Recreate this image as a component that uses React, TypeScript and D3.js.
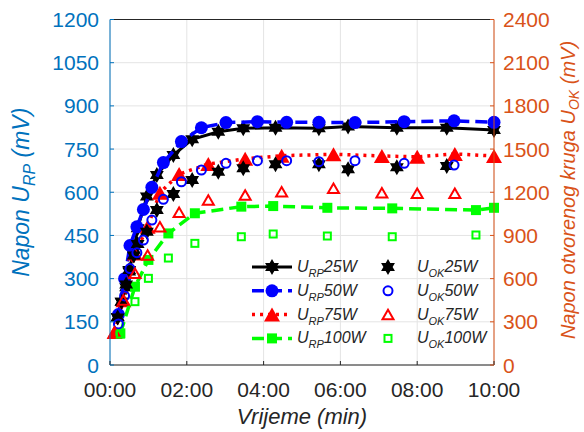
import * as d3 from "d3";

const W = 584;
const H = 432;
const MARGIN = { top: 19.5, right: 90, bottom: 67, left: 110 };

// time in minutes, URP on the left axis, UOK on the right axis (mV)
const t25 = [0.2, 0.3, 0.42, 0.5, 0.62, 0.72, 0.96, 1.22, 1.65, 2.14, 2.82, 3.47, 4.31, 5.44, 6.2, 7.47, 8.77, 10];
const urp25 = [167, 220, 270, 325, 400, 475, 585, 660, 729, 784, 810, 822, 824, 822, 828, 824, 824, 816];
const uok25 = [330, 440, 560, 660, 760, 840, 926, 1077, 1188, 1285, 1343, 1366, 1394, 1394, 1359, 1373, 1382, null];

const t50 = [0.22, 0.38, 0.52, 0.7, 0.87, 1.09, 1.39, 1.86, 2.38, 3.02, 3.84, 4.6, 5.44, 6.38, 7.66, 8.96, 10];
const urp50 = [175, 300, 415, 480, 540, 617, 703, 776, 824, 842, 845, 843, 843, 842, 845, 848, 843];
const uok50 = [285, 480, 670, 780, 868, 1007, 1151, 1273, 1354, 1401, 1419, 1419, 1412, 1419, 1401, 1389, null];

const t75 = [0.12, 0.35, 0.65, 0.98, 1.3, 1.8, 2.56, 3.52, 4.47, 5.82, 7.08, 8.0, 8.98, 10];
const urp75 = [115, 225, 387, 480, 598, 663, 698, 716, 727, 732, 726, 723, 733, 726];
const uok75 = [230, 451, 637, 764, 961, 1061, 1146, 1181, 1204, 1227, 1197, 1193, 1193, null];

const t100 = [0.27, 0.65, 1.0, 1.52, 2.21, 3.42, 4.25, 5.66, 7.35, 9.53, 10];
const urp100 = [110, 272, 365, 457, 527, 550, 552, 546, 544, 538, 546];
const uok100 = [215, 440, 602, 743, 845, 891, 910, 896, 891, 903, null];

const xTicks = [0, 2, 4, 6, 8, 10];
const leftTicks = [0, 150, 300, 450, 600, 750, 900, 1050, 1200];
const rightTicks = [0, 300, 600, 900, 1200, 1500, 1800, 2100, 2400];

const powers = ["25W", "50W", "75W", "100W"];

const LEFT_C = "#0072BD";
const RIGHT_C = "#D95319";
const AX_C = "#262626";
const FONT = "'Liberation Sans', Arial, Helvetica, sans-serif";

type Shape = "star" | "circle" | "tri" | "square";

const starPath = (R: number) => {
  const r = R / Math.sqrt(3);
  const pts: string[] = [];
  for (let i = 0; i < 12; i++) {
    const a = -Math.PI / 2 + (i * Math.PI) / 6;
    const rad = i % 2 === 0 ? R : r;
    pts.push(`${(rad * Math.cos(a)).toFixed(2)},${(rad * Math.sin(a)).toFixed(2)}`);
  }
  return "M" + pts.join("L") + "Z";
};

const Marker = ({ x, y, shape, color, filled }: { x: number; y: number; shape: Shape; color: string; filled: boolean }) => {
  const fill = filled ? color : "none";
  const sw = filled ? 0 : 2;
  if (shape === "star") {
    return <path d={starPath(filled ? 8 : 6.5)} transform={`translate(${x},${y})`} fill={color} />;
  }
  if (shape === "circle") {
    return <circle cx={x} cy={y} r={filled ? 6.5 : 4.5} fill={fill} stroke={color} strokeWidth={sw} />;
  }
  if (shape === "tri") {
    const w = filled ? 16 : 11;
    const h = filled ? 14 : 9.5;
    return (
      <path
        d={`M0,${-h / 2}L${w / 2},${h / 2}L${-w / 2},${h / 2}Z`}
        transform={`translate(${x},${y})`}
        fill={fill}
        stroke={color}
        strokeWidth={sw}
      />
    );
  }
  const s = filled ? 10 : 7;
  return <rect x={x - s / 2} y={y - s / 2} width={s} height={s} fill={fill} stroke={color} strokeWidth={sw} />;
};

const seriesDefs = [
  { t: t25, urp: urp25, uok: uok25, color: "#000000", shape: "star" as Shape, dash: "none" },
  { t: t50, urp: urp50, uok: uok50, color: "#0000FF", shape: "circle" as Shape, dash: "12,6" },
  { t: t75, urp: urp75, uok: uok75, color: "#FF0000", shape: "tri" as Shape, dash: "3,5" },
  { t: t100, urp: urp100, uok: uok100, color: "#00FF00", shape: "square" as Shape, dash: "12,6" },
];

const fmtTime = (m: number) => `${String(m).padStart(2, "0")}:00`;

export default function App() {
  const boundsW = W - MARGIN.left - MARGIN.right;
  const boundsH = H - MARGIN.top - MARGIN.bottom;
  const x0 = MARGIN.left;
  const y0 = MARGIN.top;

  const xScale = d3.scaleLinear().domain([0, 10]).range([x0, x0 + boundsW]);
  const yLeft = d3.scaleLinear().domain([0, 1200]).range([y0 + boundsH, y0]);
  const yRight = d3.scaleLinear().domain([0, 2400]).range([y0 + boundsH, y0]);

  const lineBuilder = d3
    .line<[number, number]>()
    .x((d) => xScale(d[0]))
    .y((d) => yLeft(d[1]));

  const bottom = y0 + boundsH;
  const right = x0 + boundsW;

  return (
    <svg width={W} height={H} style={{ position: "absolute", left: 0, top: 0, fontFamily: FONT }}>
      <rect x={0} y={0} width={W} height={H} fill="white" />

      {/* grid */}
      {xTicks.map((v) => (
        <line key={"gx" + v} x1={xScale(v)} x2={xScale(v)} y1={y0} y2={bottom} stroke="#e4e4e4" strokeWidth={1} />
      ))}
      {leftTicks.map((v) => (
        <line key={"gy" + v} x1={x0} x2={right} y1={yLeft(v)} y2={yLeft(v)} stroke="#e4e4e4" strokeWidth={1} />
      ))}

      {/* URP lines + markers */}
      {seriesDefs.map((s, i) => {
        const pts = s.t.map((t, j) => [t, s.urp[j]] as [number, number]);
        return (
          <g key={"urp" + i}>
            <path
              d={lineBuilder(pts)!}
              fill="none"
              stroke={s.color}
              strokeWidth={i === 0 ? 3 : 3.5}
              strokeDasharray={s.dash}
            />
            {pts.map((p, j) => (
              <Marker key={j} x={xScale(p[0])} y={yLeft(p[1])} shape={s.shape} color={s.color} filled />
            ))}
          </g>
        );
      })}

      {/* UOK markers */}
      {seriesDefs.map((s, i) => (
        <g key={"uok" + i}>
          {s.t.map((t, j) =>
            s.uok[j] == null ? null : (
              <Marker key={j} x={xScale(t)} y={yRight(s.uok[j] as number)} shape={s.shape} color={s.color} filled={s.shape === "star"} />
            )
          )}
        </g>
      ))}

      {/* axes */}
      <line x1={x0} x2={right} y1={y0} y2={y0} stroke={AX_C} strokeWidth={1} />
      <line x1={x0} x2={right} y1={bottom} y2={bottom} stroke={AX_C} strokeWidth={1} />
      <line x1={x0} x2={x0} y1={y0} y2={bottom} stroke={LEFT_C} strokeWidth={1} />
      <line x1={right} x2={right} y1={y0} y2={bottom} stroke={RIGHT_C} strokeWidth={1} />

      {xTicks.map((v) => (
        <g key={"xt" + v}>
          <line x1={xScale(v)} x2={xScale(v)} y1={bottom} y2={bottom - 4} stroke={AX_C} />
          <text x={xScale(v)} y={397} textAnchor="middle" fontSize={21} fill={AX_C}>
            {fmtTime(v)}
          </text>
        </g>
      ))}
      {leftTicks.map((v) => (
        <g key={"lt" + v}>
          <line x1={x0} x2={x0 + 4} y1={yLeft(v)} y2={yLeft(v)} stroke={LEFT_C} />
          <text x={99} y={yLeft(v) + 7.5} textAnchor="end" fontSize={21} fill={LEFT_C}>
            {v}
          </text>
        </g>
      ))}
      {rightTicks.map((v) => (
        <g key={"rt" + v}>
          <line x1={right} x2={right - 4} y1={yRight(v)} y2={yRight(v)} stroke={RIGHT_C} />
          <text x={503} y={yRight(v) + 7.5} textAnchor="start" fontSize={21} fill={RIGHT_C}>
            {v}
          </text>
        </g>
      ))}

      {/* axis titles */}
      <text x={(x0 + right) / 2} y={424} textAnchor="middle" fontSize={22} fontStyle="italic" fill={AX_C}>
        Vrijeme (min)
      </text>
      <text transform={`translate(29,${(y0 + bottom) / 2}) rotate(-90)`} textAnchor="middle" fontSize={23} fontStyle="italic" fill={LEFT_C}>
        Napon U
        <tspan fontSize={16} dy={6}>RP</tspan>
        <tspan dy={-6}> (mV)</tspan>
      </text>
      <text transform={`translate(575,190) rotate(-90)`} textAnchor="middle" fontSize={20} fontStyle="italic" fill={RIGHT_C}>
        Napon otvorenog kruga U
        <tspan fontSize={14} dy={4}>OK</tspan>
        <tspan dy={-4}> (mV)</tspan>
      </text>

      {/* legend */}
      {seriesDefs.map((s, i) => {
        const cy = 267 + i * 23.8;
        return (
          <g key={"lg" + i}>
            <line x1={252} x2={292} y1={cy} y2={cy} stroke={s.color} strokeWidth={i === 0 ? 3 : 3.5} strokeDasharray={s.dash} />
            <Marker x={272} y={cy} shape={s.shape} color={s.color} filled />
            <text x={297} y={cy + 5} fontSize={16} fontStyle="italic" fill={AX_C}>
              U<tspan fontSize={11} dy={5}>RP</tspan>
              <tspan dy={-5}>{powers[i]}</tspan>
            </text>
            <Marker x={388} y={cy} shape={s.shape} color={s.color} filled={s.shape === "star"} />
            <text x={417} y={cy + 5} fontSize={16} fontStyle="italic" fill={AX_C}>
              U<tspan fontSize={11} dy={5}>OK</tspan>
              <tspan dy={-5}>{powers[i]}</tspan>
            </text>
          </g>
        );
      })}
    </svg>
  );
}
